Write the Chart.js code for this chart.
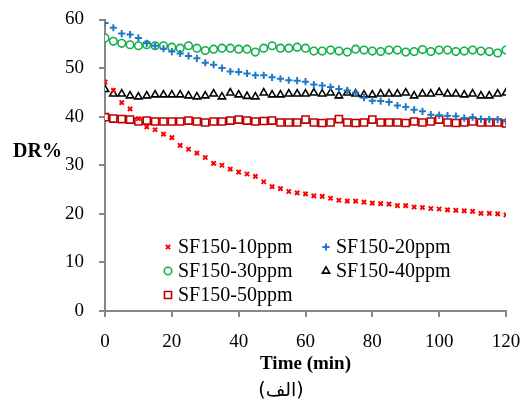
<!DOCTYPE html>
<html>
<head>
<meta charset="utf-8">
<script src="https://cdn.jsdelivr.net/npm/chart.js@4.4.1/dist/chart.umd.min.js"></script>
<style>
  body { margin: 0; background: #fff; }
  canvas { display: block; }
</style>
</head>
<body>
<canvas id="container" width="525" height="404"></canvas>
<script>
// time (min)
var times = [0, 2.5, 5, 7.5, 10, 12.5, 15, 17.5, 20, 22.5, 25, 27.5, 30, 32.5, 35, 37.5, 40, 42.5, 45, 47.5,
  50, 52.5, 55, 57.5, 60, 62.5, 65, 67.5, 70, 72.5, 75, 77.5, 80, 82.5, 85, 87.5, 90, 92.5, 95, 97.5,
  100, 102.5, 105, 107.5, 110, 112.5, 115, 117.5, 120];

// DR% per series
var dr10 = [47.1, 45.4, 42.9, 41.6, 39.6, 37.9, 37.3, 36.4, 35.7, 34.1, 33.3, 32.5, 31.6, 30.4, 30.0, 29.2, 28.6, 28.2, 27.7, 26.6,
  25.6, 25.2, 24.6, 24.3, 24.1, 23.7, 23.6, 23.2, 22.8, 22.6, 22.6, 22.4, 22.2, 22.1, 22.0, 21.7, 21.7, 21.4, 21.3, 21.1,
  21.0, 20.8, 20.7, 20.6, 20.5, 20.1, 20.1, 20.0, 19.8];
var dr20 = [59.3, 58.3, 57.1, 56.9, 56.2, 55.1, 54.6, 54.0, 53.4, 53.0, 52.5, 52.0, 51.1, 50.7, 50.0, 49.3, 49.2, 48.9, 48.5, 48.5,
  48.1, 47.8, 47.5, 47.4, 47.2, 46.6, 46.4, 46.1, 45.7, 45.4, 44.9, 43.9, 43.3, 43.2, 43.0, 42.3, 42.0, 41.4, 41.1, 40.4,
  40.3, 40.2, 40.1, 39.7, 39.9, 39.5, 39.4, 39.4, 39.0];
var dr30 = [56.2, 55.5, 55.1, 54.8, 54.6, 54.8, 54.6, 54.6, 54.3, 54.1, 54.6, 54.1, 53.6, 53.9, 54.1, 54.1, 53.9, 53.9, 53.3, 54.1,
  54.6, 54.1, 54.1, 54.3, 54.1, 53.5, 53.5, 53.7, 53.5, 53.3, 53.9, 53.7, 53.5, 53.4, 53.7, 53.7, 53.3, 53.4, 53.8, 53.4,
  53.7, 53.7, 53.4, 53.5, 53.7, 53.5, 53.4, 53.1, 53.7];
var dr40 = [45.6, 44.7, 44.7, 44.3, 44.1, 44.3, 44.5, 44.5, 44.5, 44.5, 44.3, 44.1, 44.3, 44.7, 44.1, 44.9, 44.5, 44.2, 44.1, 44.9,
  44.5, 44.5, 44.7, 44.7, 44.7, 44.9, 44.7, 44.9, 44.3, 44.9, 44.7, 44.5, 44.5, 44.7, 44.7, 44.7, 44.9, 44.3, 44.7, 44.7,
  45.0, 44.7, 44.7, 44.5, 44.7, 44.3, 44.3, 44.7, 44.9];
var dr50 = [39.9, 39.6, 39.5, 39.4, 39.0, 39.2, 39.0, 39.0, 39.0, 39.0, 39.2, 39.0, 38.8, 39.0, 39.0, 39.2, 39.4, 39.2, 39.0, 39.1,
  39.2, 38.8, 38.8, 38.8, 39.4, 38.8, 38.7, 38.8, 39.5, 38.8, 38.7, 38.8, 39.4, 38.8, 38.8, 38.8, 38.7, 39.0, 38.8, 39.0,
  39.4, 38.8, 38.7, 38.8, 39.0, 38.8, 38.8, 38.8, 38.6];

var labels = ['SF150-10ppm', 'SF150-20ppm', 'SF150-30ppm', 'SF150-40ppm', 'SF150-50ppm'];

function pts(arr) {
  return arr.map(function (v, i) { return { x: times[i], y: v }; });
}

var serif = "'Liberation Serif', 'Times New Roman', serif";
var axisColor = '#878787';

var datasets = [
  { label: labels[0], data: pts(dr10), pointStyle: 'crossRot', pointRadius: 3, borderColor: '#ff0000', backgroundColor: '#ff0000', pointBorderWidth: 2 },
  { label: labels[1], data: pts(dr20), pointStyle: 'cross', pointRadius: 3.6, borderColor: '#1f78c8', backgroundColor: '#1f78c8', pointBorderWidth: 2 },
  { label: labels[2], data: pts(dr30), pointStyle: 'circle', pointRadius: 3.8, borderColor: '#12b04c', backgroundColor: '#ffffff', pointBorderWidth: 1.6 },
  { label: labels[3], data: pts(dr40), pointStyle: 'triangle', pointRadius: 4.2, borderColor: '#000000', backgroundColor: '#ffffff', pointBorderWidth: 1.6 },
  { label: labels[4], data: pts(dr50), pointStyle: 'rect', pointRadius: 5, borderColor: '#c00000', backgroundColor: '#ffffff', pointBorderWidth: 1.6 }
];

// legend drawn inside the plot, 2 columns, plus outside texts
var extras = {
  id: 'extras',
  afterDraw: function (chart) {
    var ctx = chart.ctx;
    var area = chart.chartArea;
    ctx.save();
    ctx.fillStyle = '#000';
    ctx.textBaseline = 'middle';

    // y title, horizontal
    ctx.font = 'bold 20px ' + serif;
    ctx.textAlign = 'left';
    ctx.fillText('DR%', 13, 152);

    // x title
    ctx.font = 'bold 19px ' + serif;
    ctx.textAlign = 'center';
    ctx.fillText('Time (min)', (area.left + area.right) / 2, 364);

    // caption
    ctx.font = "19px 'DejaVu Sans', " + serif;
    ctx.fillText('(الف)', 281, 391);

    // legend
    var cols = [168, 326];
    var rows = [247, 271, 295];
    ctx.font = '20px ' + serif;
    ctx.textAlign = 'left';
    chart.data.datasets.forEach(function (ds, i) {
      var x = cols[i % 2];
      var y = rows[Math.floor(i / 2)];
      ctx.strokeStyle = ds.borderColor;
      ctx.fillStyle = ds.backgroundColor;
      ctx.lineWidth = ds.pointBorderWidth;
      Chart.helpers.drawPoint(ctx, {
        pointStyle: ds.pointStyle,
        radius: ds.pointRadius,
        borderWidth: ds.pointBorderWidth,
        rotation: 0
      }, x, y);
      ctx.fillStyle = '#000';
      ctx.fillText(ds.label, x + 10, y + 1);
    });
    ctx.restore();
  }
};

new Chart('container', {
  type: 'scatter',
  data: { datasets: datasets },
  options: {
    responsive: false,
    animation: false,
    layout: { padding: { top: 19.5, right: 19, left: 0, bottom: 0 } },
    plugins: {
      legend: { display: false },
      tooltip: { enabled: false }
    },
    scales: {
      x: {
        type: 'linear',
        min: 0,
        max: 120,
        afterFit: function (s) { s.height = 93; s.paddingLeft = 0; s.paddingRight = 0; },
        ticks: { stepSize: 20, color: '#000', font: { family: serif, size: 19 }, padding: 14, maxRotation: 0 },
        grid: { drawOnChartArea: false, drawTicks: true, tickLength: 6, color: axisColor, lineWidth: 2 },
        border: { color: axisColor, width: 2 }
      },
      y: {
        min: 0,
        max: 60,
        afterFit: function (s) { s.width = 105; s.paddingTop = 0; s.paddingBottom = 0; },
        ticks: { stepSize: 10, color: '#000', font: { family: serif, size: 19 }, padding: 15 },
        grid: { drawOnChartArea: false, drawTicks: true, tickLength: 6, color: axisColor, lineWidth: 2 },
        border: { color: axisColor, width: 2 }
      }
    }
  },
  plugins: [extras]
});
</script>
</body>
</html>
